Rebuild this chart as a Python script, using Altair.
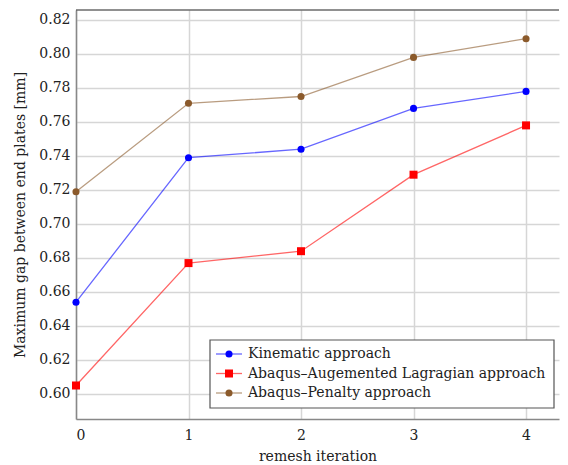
import altair as alt
import pandas as pd

iterations = [0, 1, 2, 3, 4]
series_names = ["Kinematic approach", "Abaqus\u2013Augemented Lagragian approach", "Abaqus\u2013Penalty approach"]
kinematic = [0.654, 0.739, 0.744, 0.768, 0.778]
aug_lagrangian = [0.605, 0.677, 0.684, 0.729, 0.758]
penalty = [0.719, 0.771, 0.775, 0.798, 0.809]
y_ticks = [0.60, 0.62, 0.64, 0.66, 0.68, 0.70, 0.72, 0.74, 0.76, 0.78, 0.80, 0.82]

colors = ["#0000ff", "#ff0000", "#8b5a2b"]
shapes = ["circle", "square", "circle"]
FONT = "DejaVu Serif"
FS = 14

rows = []
for name, vals in zip(series_names, [kinematic, aug_lagrangian, penalty]):
    for it, v in zip(iterations, vals):
        rows.append({"iteration": it, "value": v, "series": name})
df = pd.DataFrame(rows)

W, H = 483, 409
x_scale = alt.Scale(domain=[0, 4.293], nice=False, zero=False)
y_scale = alt.Scale(domain=[0.58529, 0.82588], nice=False, zero=False)
color_scale = alt.Scale(domain=series_names, range=colors)
shape_scale = alt.Scale(domain=series_names, range=shapes)

x_axis = alt.Axis(values=iterations, format="d", title="remesh iteration",
                  ticks=False, labelPadding=9, titlePadding=7, grid=True, labelOverlap=False,
                  labelFont=FONT, titleFont=FONT, labelFontSize=FS, titleFontSize=FS)
y_axis = alt.Axis(values=y_ticks, format=".2f", title="Maximum gap between end plates [mm]",
                  ticks=False, labelPadding=6, titlePadding=11, grid=True, labelOverlap=False,
                  labelFont=FONT, titleFont=FONT, labelFontSize=FS, titleFontSize=FS)

lines = alt.Chart(df).mark_line(strokeWidth=1.3, opacity=0.6).encode(
    x=alt.X("iteration:Q", scale=x_scale, axis=x_axis),
    y=alt.Y("value:Q", scale=y_scale, axis=y_axis),
    color=alt.Color("series:N", scale=color_scale, legend=None),
    detail="series:N",
)
points = alt.Chart(df).mark_point(filled=True, opacity=1).encode(
    x=alt.X("iteration:Q", scale=x_scale, axis=x_axis),
    y=alt.Y("value:Q", scale=y_scale, axis=y_axis),
    color=alt.Color("series:N", scale=color_scale, legend=None),
    shape=alt.Shape("series:N", scale=shape_scale, legend=None),
    size=alt.condition(alt.datum.series == series_names[1], alt.value(64), alt.value(50)),
)

one = pd.DataFrame({"a": [0]})
top_border = alt.Chart(one).mark_rule(color="#222", strokeWidth=1.2).encode(
    x=alt.value(0), x2=alt.value(W), y=alt.value(0))

legend_layers = [
    alt.Chart(one).mark_rect(fill="white", stroke="#555", strokeWidth=1.2).encode(
        x=alt.value(134), x2=alt.value(478), y=alt.value(330), y2=alt.value(398))
]
for i, name in enumerate(series_names):
    yy = 344 + 19.5 * i
    legend_layers.append(alt.Chart(one).mark_rule(color=colors[i], strokeWidth=1.3, opacity=0.6).encode(
        x=alt.value(140), x2=alt.value(166), y=alt.value(yy)))
    legend_layers.append(alt.Chart(one).mark_point(filled=True, opacity=1, color=colors[i], shape=shapes[i],
                                                    size=64 if shapes[i] == "square" else 50).encode(
        x=alt.value(153), y=alt.value(yy)))
    legend_layers.append(alt.Chart(one).mark_text(align="left", baseline="middle", font=FONT, fontSize=FS,
                                                   color="#222").encode(
        x=alt.value(172), y=alt.value(yy), text=alt.value(name)))

chart = alt.layer(lines, points, top_border, *legend_layers).properties(
    width=W, height=H,
    padding={"left": 5, "top": 1, "right": 0, "bottom": 0},
).configure_view(stroke=None).configure_axis(
    labelColor="#222", titleColor="#222", titleFontWeight="normal",
    domainColor="#888", domainWidth=1.5, gridColor="#d6d6d6", gridWidth=1.5,
)

chart.save("out.html", embed_options={"renderer": "svg", "actions": False})
